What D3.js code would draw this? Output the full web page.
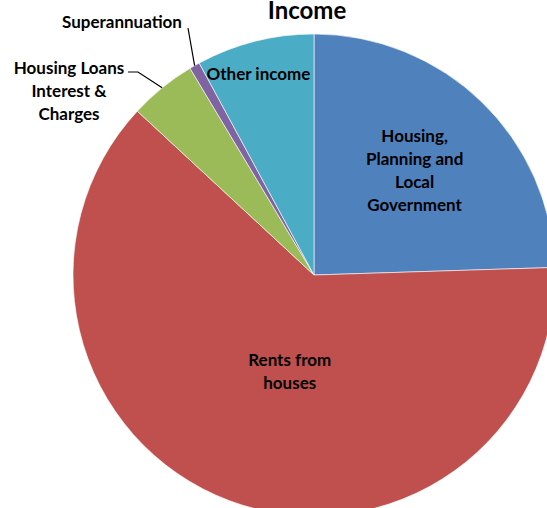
<!DOCTYPE html>
<html>
<head>
<meta charset="utf-8">
<script src="https://cdn.jsdelivr.net/npm/d3@7"></script>
<style>
html,body{margin:0;padding:0;background:#fff;overflow:hidden;}
svg{display:block;font-family:Lato,"Open Sans",sans-serif;}
</style>
</head>
<body>
<svg id="chart" width="547" height="508"></svg>
<script>
const categories = ["Housing, Planning and Local Government", "Rents from houses", "Housing Loans Interest & Charges", "Superannuation", "Other income"];
const values = [24.5, 62.4, 4.5, 0.7, 7.9];
const colors = ["#4F81BD", "#C0504D", "#9BBB59", "#8064A2", "#4BACC6"];
const title = "Income";

const svg = d3.select("#chart");
const cx = 314, cy = 275, R = 241;
const g = svg.append("g").attr("transform", `translate(${cx},${cy})`);

const pie = d3.pie().sort(null).value(d => d.v);
const data = pie(categories.map((c, i) => ({c, v: values[i], col: colors[i]})));
const arc = d3.arc().innerRadius(0).outerRadius(R);

g.selectAll("path.slice").data(data).enter().append("path")
  .attr("class", "slice")
  .attr("d", arc)
  .attr("fill", d => d.data.col)
  .attr("stroke", "#fff")
  .attr("stroke-width", 0.6);

svg.append("text").attr("x", 307).attr("y", 19).attr("text-anchor", "middle")
  .attr("font-size", 24).attr("font-weight", "bold").attr("fill", "#000").text(title);

function label(lines, x, y, anchor) {
  const t = svg.append("text").attr("x", x).attr("y", y).attr("text-anchor", anchor || "middle")
    .attr("font-size", 17).attr("font-weight", "bold").attr("fill", "#000");
  lines.forEach((l, i) => t.append("tspan").attr("x", x).attr("dy", i === 0 ? 0 : 23).text(l));
}

function polar(a, r) { return [cx + r * Math.sin(a), cy - r * Math.cos(a)]; }

// Blue label
const bMid = (data[0].startAngle + data[0].endAngle) / 2;
const bp = polar(bMid, 0.6 * R);
label(["Housing,", "Planning and", "Local", "Government"], bp[0], bp[1] - 29);

// Red label
const rMid = (data[1].startAngle + data[1].endAngle) / 2 - 0.11;
const rp = polar(rMid, 0.41 * R);
label(["Rents from", "houses"], rp[0], rp[1] - 5);

// Other income
const tMid = (data[4].startAngle + data[4].endAngle) / 2 - 0.02;
const tp = polar(tMid, 0.87 * R);
label(["Other income"], tp[0], tp[1] + 7);

// Superannuation with leader
const pMid = (data[3].startAngle + data[3].endAngle) / 2;
const pe = polar(pMid, R);
svg.append("path").attr("d", `M188,28 L${pe[0]},${pe[1]}`).attr("stroke", "#000").attr("stroke-width", 1.2).attr("fill", "none");
label(["Superannuation"], 122, 28);

// Housing loans with leader
const gMid = (data[2].startAngle + data[2].endAngle) / 2;
const ge = polar(gMid, R);
svg.append("path").attr("d", `M128,72 L138,72 L${ge[0]},${ge[1]}`).attr("stroke", "#000").attr("stroke-width", 1.2).attr("fill", "none");
label(["Housing Loans", "Interest &", "Charges"], 69, 74);
</script>
</body>
</html>
